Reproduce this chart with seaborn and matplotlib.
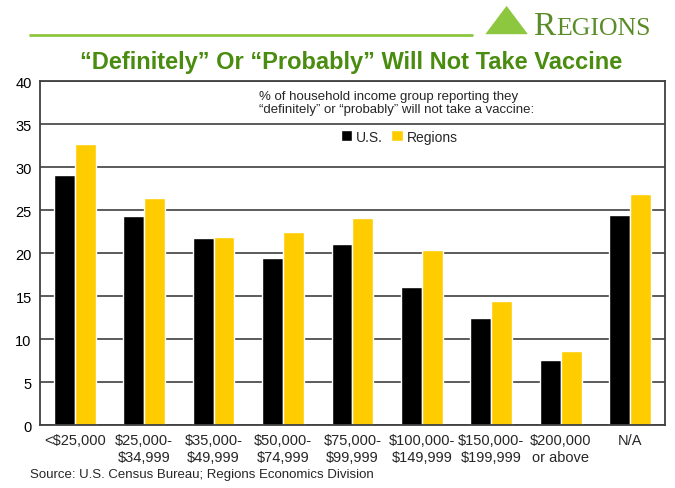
import pandas as pd
import seaborn as sns
import matplotlib.pyplot as plt
from matplotlib.patches import Polygon
from matplotlib.lines import Line2D

# Data
categories = ['<$25,000', '$25,000-\n$34,999', '$35,000-\n$49,999', '$50,000-\n$74,999',
              '$75,000-\n$99,999', '$100,000-\n$149,999', '$150,000-\n$199,999',
              '$200,000\nor above', 'N/A']
us_values = [29.1, 24.3, 21.8, 19.4, 21.0, 16.0, 12.4, 7.6, 24.4]
regions_values = [32.7, 26.4, 21.9, 22.4, 24.1, 20.4, 14.4, 8.6, 26.9]
series_names = ['U.S.', 'Regions']
y_ticks = [0, 5, 10, 15, 20, 25, 30, 35, 40]

df = pd.DataFrame({
    'Income': categories * 2,
    'Series': [series_names[0]] * len(categories) + [series_names[1]] * len(categories),
    'Value': us_values + regions_values,
})

sns.set_style('white')
plt.rcParams['font.family'] = ['Liberation Sans', 'DejaVu Sans']

fig = plt.figure(figsize=(6.75, 4.89), dpi=100)
ax = fig.add_axes([0.0593, 0.1288, 0.9257, 0.7035])

sns.barplot(data=df, x='Income', y='Value', hue='Series', palette=['#000000', '#FFCC00'],
            width=0.6, gap=0, saturation=1, ax=ax, legend=True)

ax.set_ylim(0, 40)
ax.set_yticks(y_ticks)
ax.yaxis.grid(True, color='#404040', linewidth=1.2)
ax.set_axisbelow(True)
ax.set_xlim(-0.5, len(categories) - 0.5)
ax.set_xlabel('')
ax.set_ylabel('')
for s in ax.spines.values():
    s.set_color('#404040')
    s.set_linewidth(1.3)
ax.tick_params(axis='y', labelsize=10.5, length=0, pad=6, colors='black')
ax.tick_params(axis='x', labelsize=10.5, length=0, pad=6)
# tick marks between categories
ax.set_xticks([i + 0.5 for i in range(len(categories) - 1)], minor=True)
ax.tick_params(axis='x', which='minor', length=5, direction='out', color='#404040', width=1)

ax.legend(title='', loc='upper center', bbox_to_anchor=(0.575, 0.895), ncol=2, frameon=False,
          fontsize=10, handlelength=0.8, handleheight=0.8, handletextpad=0.3, columnspacing=0.6)
ax.text(0.35, 0.975, '% of household income group reporting they\n'
        '\u201cdefinitely\u201d or \u201cprobably\u201d will not take a vaccine:',
        transform=ax.transAxes, ha='left', va='top', fontsize=9.5, linespacing=1.15)

# header: title, rule and logo
fig.text(0.52, 0.873, '\u201cDefinitely\u201d Or \u201cProbably\u201d Will Not Take Vaccine',
         ha='center', va='center', fontsize=17, fontweight='bold', color='#4A8C0F')
fig.add_artist(Line2D([0.044, 0.70], [0.926, 0.926], color='#8DC63F', linewidth=2))
fig.add_artist(Polygon([[0.719, 0.928], [0.782, 0.928], [0.7505, 0.986]], closed=True,
                       facecolor='#8DC63F', edgecolor='none', transform=fig.transFigure))
fig.text(0.79, 0.928, 'R', ha='left', va='baseline', fontsize=24, color='#5B8C2A',
         family=['Liberation Serif'])
fig.text(0.824, 0.928, 'EGIONS', ha='left', va='baseline', fontsize=18.5, color='#5B8C2A',
         family=['Liberation Serif'])

fig.text(0.045, 0.016, 'Source: U.S. Census Bureau; Regions Economics Division',
         ha='left', va='bottom', fontsize=9.5)

plt.savefig('out.png', dpi=100)
